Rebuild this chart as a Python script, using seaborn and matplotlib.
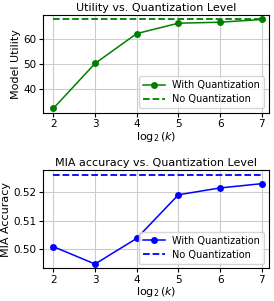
import matplotlib
matplotlib.use("Agg")
import matplotlib.pyplot as plt
import seaborn as sns
import pandas as pd

log_k = [2, 3, 4, 5, 6, 7]
utility_quant = [32.0, 50.2, 62.3, 66.5, 66.9, 68.0]
utility_noquant = 68.0
mia_quant = [0.5009, 0.4948, 0.5038, 0.5191, 0.5215, 0.5230]
mia_noquant = 0.5262

plt.rcParams['font.family'] = ['DejaVu Sans']
plt.rcParams['font.size'] = 8

fig = plt.figure(figsize=(2.74, 3.01), dpi=100)
ax1 = fig.add_axes([0.156, 0.625, 0.826, 0.325])
ax2 = fig.add_axes([0.156, 0.108, 0.826, 0.327])

df_u = pd.DataFrame({"x": log_k, "y": utility_quant})
df_m = pd.DataFrame({"x": log_k, "y": mia_quant})

specs = [
    (ax1, df_u, utility_noquant, "green", "Utility vs. Quantization Level", "Model Utility"),
    (ax2, df_m, mia_noquant, "blue", "MIA accuracy vs. Quantization Level", "MIA Accuracy"),
]
for ax, df, ref, col, title, ylab in specs:
    sns.lineplot(data=df, x="x", y="y", ax=ax, color=col, marker="o",
                 markersize=5, markeredgewidth=0, linewidth=1.1,
                 label="With Quantization")
    ax.hlines(ref, min(log_k), max(log_k), color=col, linestyle="--",
              linewidth=1.3, label="No Quantization")
    ax.set_title(title, fontsize=8, pad=3)
    ax.set_xlabel(r"$\log_2(k)$", fontsize=8, labelpad=0.5)
    ax.set_ylabel(ylab, fontsize=8, labelpad=2)
    ax.grid(True, color="#cccccc", linewidth=0.8)
    ax.set_axisbelow(True)
    ax.legend(fontsize=7, loc="lower right", handlelength=2.2, borderpad=0.4,
              labelspacing=0.4)
    ax.set_xticks(log_k)
    ax.set_xlim(1.746, 7.175)
    ax.tick_params(labelsize=7.5, length=3, pad=1.5)

fig.savefig("out.png", dpi=100)
